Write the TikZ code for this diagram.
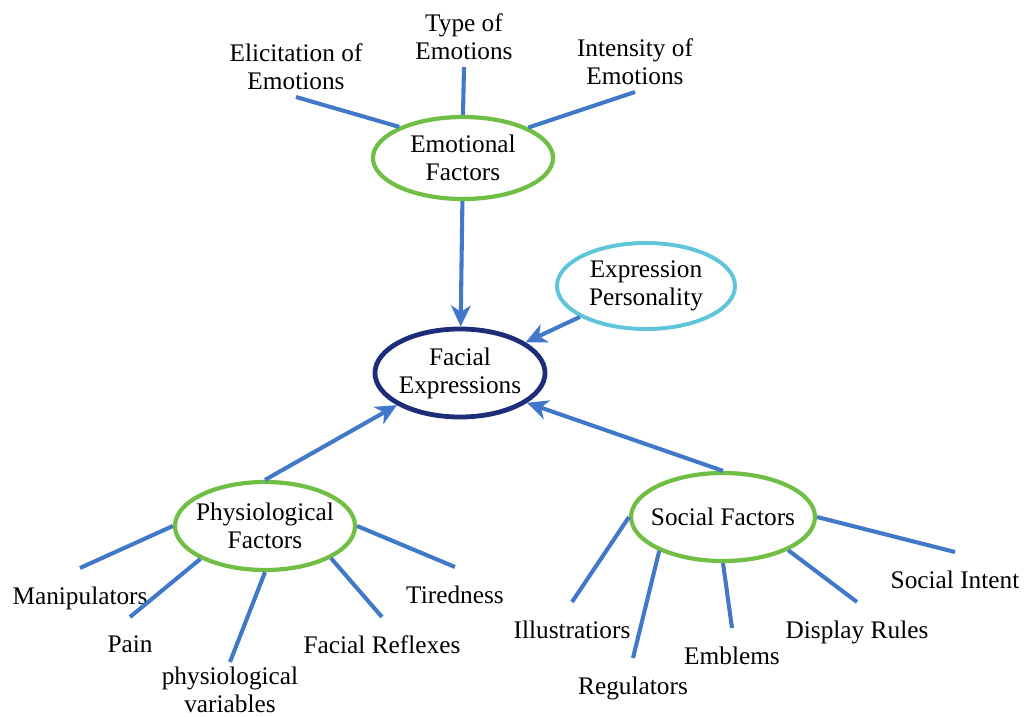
\documentclass[tikz,border=0pt]{standalone}
\usepackage{fontspec}
\setmainfont{Liberation Serif}
\usetikzlibrary{arrows.meta,shapes.geometric}
\definecolor{linkblue}{RGB}{66,120,200}
\definecolor{factgreen}{RGB}{112,190,70}
\definecolor{perscyan}{RGB}{96,196,218}
\definecolor{facenavy}{RGB}{30,45,120}
\begin{document}
\begin{tikzpicture}[x=0.025cm,y=-0.025cm,>={Stealth[length=15pt,width=14pt,inset=4.5pt]},
every node/.style={font=\fontsize{18}{20}\selectfont,align=center},
factor/.style={ellipse,draw=factgreen,line width=3pt,inner xsep=-5pt,inner ysep=0pt,minimum width=4.5cm,minimum height=2.15cm},
link/.style={color=linkblue,line width=2.9pt},
lowleaf/.style={anchor=north,inner sep=2pt,outer sep=11.5pt},
highleaf/.style={anchor=south,inner sep=2pt,outer sep=3.3pt}]
\useasboundingbox (0,0) rectangle (1028,717);
\node[factor,minimum height=2.05cm] (emo) at (463,158) {Emotional\\Factors};
\node[factor,draw=facenavy,line width=3.4pt,minimum width=4.25cm,minimum height=2.2cm] (face) at (460,373) {Facial\\Expressions};
\node[factor,draw=perscyan,line width=2.8pt,minimum width=4.45cm] (pers) at (646,286) {Expression\\Personality};
\node[factor,minimum height=2.2cm] (phys) at (265,526) {Physiological\\Factors};
\node[factor,minimum width=4.4cm,minimum height=2.2cm] (soc) at (723,517) {Social Factors};

\node[highleaf] (elic) at (296,97) {Elicitation of\\Emotions};
\node[highleaf] (kind) at (464,67) {Type of\\Emotions};
\node[highleaf] (inten) at (635,92) {Intensity of\\Emotions};

\node[lowleaf] (mani) at (80,568) {Manipulators};
\node[lowleaf] (pain) at (130,617) {Pain};
\node[lowleaf,outer sep=1.5pt] (vars) at (230,662) {physiological\\variables};
\node[lowleaf] (refl) at (382,617) {Facial Reflexes};
\node[lowleaf] (tired) at (455,567) {Tiredness};

\node[lowleaf] (illu) at (572,602) {Illustratiors};
\node[lowleaf] (regu) at (633,658) {Regulators};
\node[lowleaf] (embl) at (732,628) {Emblems};
\node[lowleaf] (disp) at (857,602) {Display Rules};
\node[lowleaf] (intent) at (955,552) {Social Intent};

\draw[link] (emo.154) -- (elic.south);
\draw[link] (emo.north) -- (kind.south);
\draw[link] (emo.25) -- (inten.south);

\draw[link,->] (emo) -- (face);
\draw[link,->] (pers) -- (face);
\draw[link,->] (phys.north) -- (face.207);
\draw[link,->] (soc.north) -- (face.336);

\draw[link] (phys.west) -- (mani.north);
\draw[link] (phys.207) -- (pain.north);
\draw[link] (phys.south) -- (vars.north);
\draw[link] (phys.334) -- (refl.north);
\draw[link] (phys.east) -- (tired.north);

\draw[link] (soc.west) -- (illu.north);
\draw[link] (soc.208) -- (regu.north);
\draw[link] (soc.south) -- (embl.north);
\draw[link] (soc.333) -- (disp.north);
\draw[link] (soc.east) -- (intent.north);
\end{tikzpicture}
\end{document}
